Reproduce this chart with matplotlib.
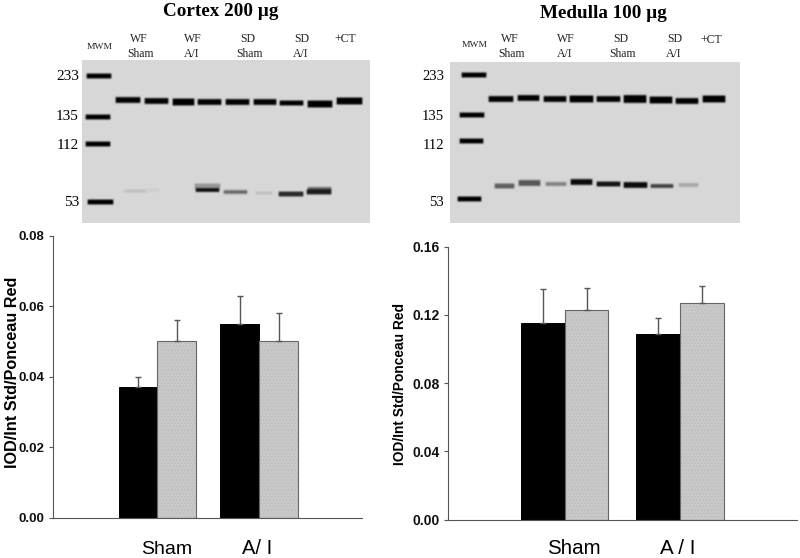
import numpy as np
import matplotlib
matplotlib.use("Agg")
import matplotlib.pyplot as plt

W, H = 800, 558

# bar values
cortex_black = [0.037, 0.055]
cortex_black_err = [0.003, 0.008]
cortex_gray = [0.050, 0.050]
cortex_gray_err = [0.006, 0.008]
cortex_ticks = [0.00, 0.02, 0.04, 0.06, 0.08]

medulla_black = [0.115, 0.109]
medulla_black_err = [0.020, 0.009]
medulla_gray = [0.123, 0.127]
medulla_gray_err = [0.013, 0.010]
medulla_ticks = [0.00, 0.04, 0.08, 0.12, 0.16]

# blot bands, in page pixels: x0, x1, y, thickness, darkness
cortex_upper_x0 = [115, 144, 172, 197, 225, 253, 279, 307, 336]
cortex_upper_x1 = [141, 169, 195, 222, 250, 277, 304, 333, 363]
cortex_upper_y = [100, 101, 102, 102, 102, 102, 103, 104, 101]
cortex_upper_t = [5, 5, 6, 5, 5, 5, 4, 6, 6]
cortex_lower_x0 = [123, 147, 194, 195, 223, 255, 278, 306, 307]
cortex_lower_x1 = [147, 160, 221, 220, 248, 273, 304, 332, 332]
cortex_lower_y = [191, 190, 186, 190, 192, 193, 194, 192, 189]
cortex_lower_t = [2, 2, 4, 3, 3, 2, 4, 4, 3]
cortex_lower_d = [0.10, 0.05, 0.30, 0.95, 0.50, 0.10, 0.80, 0.85, 0.55]
cortex_marker_x0 = [86, 85, 85, 87]
cortex_marker_x1 = [112, 111, 111, 114]
cortex_marker_y = [76, 117, 144, 202]

medulla_upper_x0 = [488, 517, 543, 569, 596, 623, 649, 675, 702]
medulla_upper_x1 = [514, 540, 567, 594, 621, 647, 673, 699, 726]
medulla_upper_y = [99, 98, 99, 99, 99, 99, 100, 101, 99]
medulla_upper_t = [5, 5, 5, 6, 5, 7, 6, 5, 6]
medulla_lower_x0 = [494, 518, 545, 570, 596, 623, 650, 678]
medulla_lower_x1 = [515, 541, 567, 593, 621, 648, 674, 699]
medulla_lower_y = [186, 183, 184, 182, 184, 185, 186, 185]
medulla_lower_t = [4, 5, 3, 5, 4, 5, 3, 3]
medulla_lower_d = [0.55, 0.60, 0.40, 0.95, 0.90, 0.95, 0.70, 0.22]
medulla_marker_x0 = [461, 459, 459, 457]
medulla_marker_x1 = [487, 485, 484, 482]
medulla_marker_y = [75, 115, 141, 199]

mw_labels = ["233", "135", "112", "53"]
cortex_mw_y = [77, 117, 145, 202]
medulla_mw_y = [77, 117, 145, 202]


def add_axes_px(left, top, right, bottom):
    return fig.add_axes([left / W, 1 - bottom / H, (right - left) / W, (bottom - top) / H])


def put_text(x, y, s, **kw):
    kw.setdefault("ha", "center")
    kw.setdefault("va", "center")
    fig.text(x / W, 1 - y / H, s, **kw)


def add_band(img, box, x0, x1, y, t, d):
    # soft edged band painted on the blot image
    xx = np.arange(box[0], box[1]) + 0.5
    yy = np.arange(box[2], box[3]) + 0.5
    px = np.clip((xx - x0) / 1.5, 0, 1) * np.clip((x1 - xx) / 1.5, 0, 1)
    py = np.clip((t / 2 + 1.2 - np.abs(yy - y)) / 1.6, 0, 1)
    shade = np.outer(py, px) * d
    img *= 1 - shade


def soften(img):
    # small blur, the blots are scanned film
    kernel = np.array([0.25, 0.5, 0.25])
    pad = np.pad(img, 1, mode="edge")
    pad = np.apply_along_axis(lambda r: np.convolve(r, kernel, mode="same"), 0, pad)
    pad = np.apply_along_axis(lambda r: np.convolve(r, kernel, mode="same"), 1, pad)
    return pad[1:-1, 1:-1]


def draw_blot(box, uppers, lowers, markers):
    img = np.full((box[3] - box[2], box[1] - box[0]), 0.84)
    for x0, x1, y, t in zip(*uppers):
        add_band(img, box, x0, x1, y, t, 1.0)
    for x0, x1, y, t, d in zip(*lowers):
        add_band(img, box, x0, x1, y, t, d)
    for x0, x1, y in zip(*markers):
        add_band(img, box, x0, x1, y, 4, 1.0)
    ax = add_axes_px(box[0], box[2], box[1], box[3])
    ax.imshow(soften(img), cmap="gray", vmin=0, vmax=1, aspect="auto", interpolation="bilinear")
    ax.axis("off")


def draw_bars(box, black, black_err, gray, gray_err, ticks, xlim, label_size):
    ax = add_axes_px(*box)
    groups = np.arange(len(black))
    width = 0.38
    err_kw = dict(ecolor="#555555", elinewidth=1, capsize=2.5, capthick=1)
    ax.bar(groups - width / 2, black, width, color="black", edgecolor="black", linewidth=0.7,
           yerr=[[0] * len(black), black_err], error_kw=err_kw)
    # stippled fill first, then the outline with the error bars
    ax.bar(groups + width / 2, gray, width, facecolor="#c8c8c8", edgecolor="#b4b4b4", linewidth=0, hatch=".....")
    ax.bar(groups + width / 2, gray, width, fill=False, edgecolor="#666666", linewidth=0.8,
           yerr=[[0] * len(gray), gray_err], error_kw=err_kw)
    ax.set_xlim(*xlim)
    ax.set_ylim(ticks[0], ticks[-1])
    ax.set_xticks([])
    ax.set_yticks(ticks)
    ax.set_yticklabels(["%.2f" % t for t in ticks], fontsize=label_size, fontweight="bold",
                       family="Liberation Sans", color="#111111")
    ax.tick_params(axis="y", length=3, width=0.8, color="#555555", pad=3)
    ax.spines["top"].set_visible(False)
    ax.spines["right"].set_visible(False)
    ax.spines["left"].set_color("#555555")
    ax.spines["bottom"].set_color("#555555")
    ax.patch.set_alpha(0)


plt.rcParams["hatch.linewidth"] = 0.3

fig = plt.figure(figsize=(W / 100, H / 100), dpi=100)

# Western blots
draw_blot((82, 370, 60, 223),
          (cortex_upper_x0, cortex_upper_x1, cortex_upper_y, cortex_upper_t),
          (cortex_lower_x0, cortex_lower_x1, cortex_lower_y, cortex_lower_t, cortex_lower_d),
          (cortex_marker_x0, cortex_marker_x1, cortex_marker_y))
draw_blot((450, 740, 62, 223),
          (medulla_upper_x0, medulla_upper_x1, medulla_upper_y, medulla_upper_t),
          (medulla_lower_x0, medulla_lower_x1, medulla_lower_y, medulla_lower_t, medulla_lower_d),
          (medulla_marker_x0, medulla_marker_x1, medulla_marker_y))

# Bar charts
draw_bars((53, 235.7, 362, 517.7), cortex_black, cortex_black_err, cortex_gray, cortex_gray_err,
          cortex_ticks, (-1.025, 2.01), 9.5)
draw_bars((448, 246.7, 797, 519.7), medulla_black, medulla_black_err, medulla_gray, medulla_gray_err,
          medulla_ticks, (-1.012, 2.015), 10)

# Text around the blots
serif = "Liberation Serif"
sans = "Liberation Sans"
put_text(221, 11, "Cortex 200 µg", family=serif, fontweight="bold", fontsize=13.8)
put_text(603, 13, "Medulla 100 µg", family=serif, fontweight="bold", fontsize=13.8)

for x, y, s in [(100, 47, "MWM"), (139, 39, "WF"), (140, 54, "Sham"), (193, 39, "WF"), (192, 54, "A/I"),
                (248, 39, "SD"), (249, 54, "Sham"), (302, 39, "SD"), (301, 54, "A/I"), (345, 39, "+CT"),
                (475, 45, "MWM"), (510, 39, "WF"), (511, 54, "Sham"), (566, 39, "WF"), (565, 54, "A/I"),
                (621, 39, "SD"), (623, 54, "Sham"), (675, 39, "SD"), (674, 54, "A/I"), (711, 40, "+CT")]:
    put_text(x, y, s, family=serif, fontsize=6.8 if s == "MWM" else 8.5, color="#222222")

for s, y in zip(mw_labels, cortex_mw_y):
    put_text(79, y, s, family=serif, fontsize=11, ha="right")
for s, y in zip(mw_labels, medulla_mw_y):
    put_text(444, y, s, family=serif, fontsize=10.5, ha="right")

# Axis titles and group names
put_text(13, 372, "IOD/Int Std/Ponceau Red", family=sans, fontweight="bold", fontsize=11.7, rotation=90)
put_text(400, 384, "IOD/Int Std/Ponceau Red", family=sans, fontweight="bold", fontsize=9.9, rotation=90)
put_text(167, 549, "Sham", family=sans, fontsize=14)
put_text(257, 549, "A/ I", family=sans, fontsize=14.5)
put_text(574, 549, "Sham", family=sans, fontsize=14.8)
put_text(678, 549, "A / I", family=sans, fontsize=14.8)

fig.savefig("out.png", dpi=100)
